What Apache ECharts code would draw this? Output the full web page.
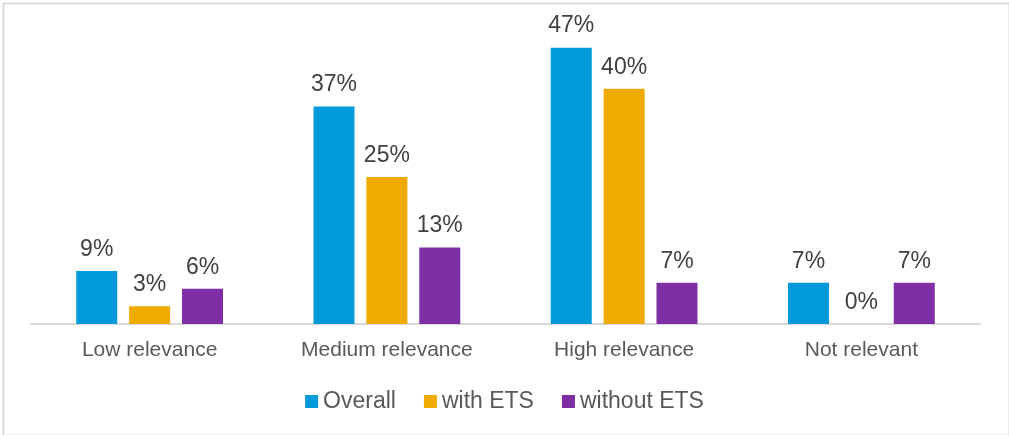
<!DOCTYPE html>
<html>
<head>
<meta charset="utf-8">
<script src="https://cdn.jsdelivr.net/npm/echarts@6/dist/echarts.min.js"></script>
<style>
html,body{margin:0;padding:0;background:#fff;}
#c{width:1009px;height:435px;}
</style>
</head>
<body>
<div id="c"></div>
<script>
const categories = ["Low relevance", "Medium relevance", "High relevance", "Not relevant"];
const seriesNames = ["Overall", "with ETS", "without ETS"];
const overall = [9, 37, 47, 7];
const withETS = [3, 25, 40, 0];
const withoutETS = [6, 13, 7, 7];
const colors = ["#009ADA", "#F0AB00", "#7E2FA6"];

const chart = echarts.init(document.getElementById('c'));
const font = "'Liberation Sans', Arial, sans-serif";
const label = {
  show: true, position: 'top', distance: 10,
  formatter: p => p.value + '%',
  color: '#404040', fontSize: 23, fontFamily: font
};
function mk(name, data, i) {
  return {
    name: name, type: 'bar', data: data,
    barWidth: 41, barGap: '29%', barCategoryGap: '38%',
    itemStyle: { color: colors[i] },
    label: label
  };
}
chart.setOption({
  animation: false,
  backgroundColor: '#fff',
  graphic: [{
    type: 'rect', left: 1, top: 1, silent: true,
    shape: { x: 0, y: 0, width: 1006, height: 432 },
    style: { fill: 'none', stroke: '#d9d9d9', lineWidth: 2 }
  }],
  grid: { left: 31, right: 29, top: 30, bottom: 111 },
  legend: {
    data: seriesNames, bottom: 17, left: 'center',
    icon: 'rect', itemWidth: 13, itemHeight: 13, itemGap: 28,
    textStyle: { color: '#595959', fontSize: 23, fontFamily: font }
  },
  xAxis: {
    type: 'category', data: categories,
    axisLine: { lineStyle: { color: '#d9d9d9', width: 2 } },
    axisTick: { show: false },
    axisLabel: { color: '#595959', fontSize: 21, fontFamily: font, margin: 16 }
  },
  yAxis: { type: 'value', min: 0, max: 50, show: false, splitLine: { show: false } },
  series: [mk(seriesNames[0], overall, 0), mk(seriesNames[1], withETS, 1), mk(seriesNames[2], withoutETS, 2)]
});
</script>
</body>
</html>
